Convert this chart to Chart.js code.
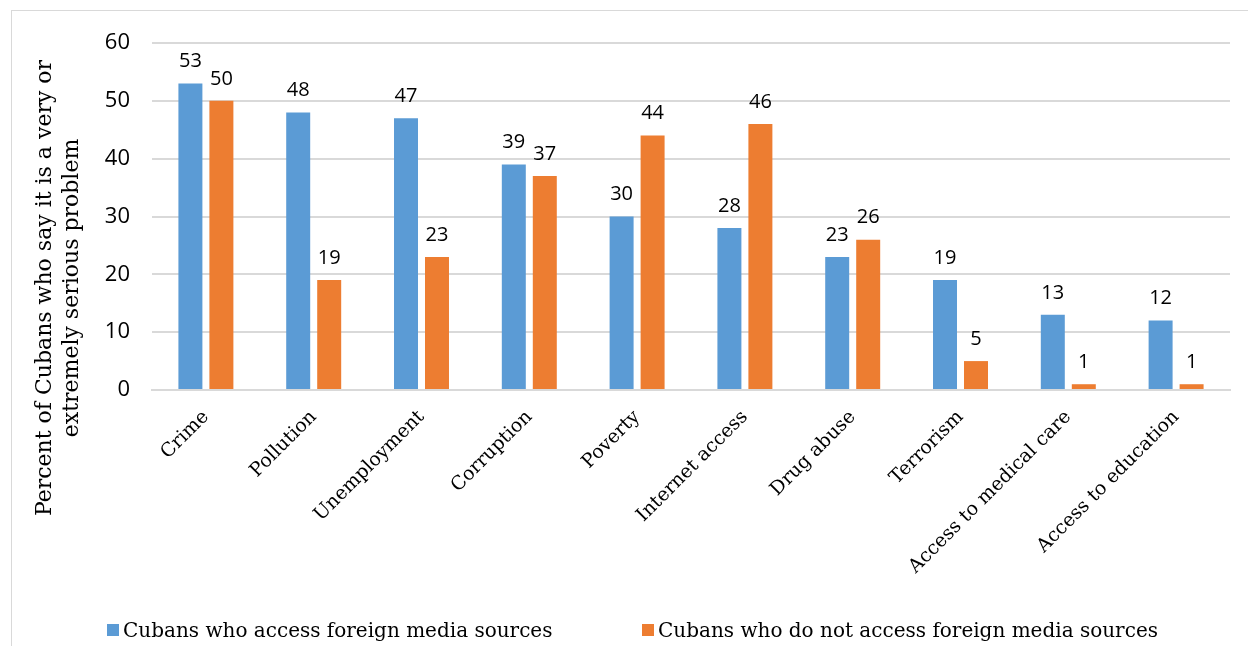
<!DOCTYPE html>
<html>
<head>
<meta charset="utf-8">
<script src="https://cdn.jsdelivr.net/npm/chart.js@4.4.0/dist/chart.umd.min.js"></script>
<style>
  html, body { margin: 0; padding: 0; background: #fff; }
  #wrap { position: relative; width: 1248px; height: 646px; overflow: hidden; }
  #frame { position: absolute; left: 11px; top: 10px; width: 1300px; height: 700px; border: 1px solid #d9d9d9; box-sizing: border-box; }
  canvas { position: absolute; left: 0; top: 0; }
  #legend { position: absolute; top: 617px; left: 0; width: 1248px; height: 26px; font-family: 'DejaVu Serif', serif; font-size: 20px; color: #000; }
  .item { position: absolute; top: 0; white-space: nowrap; line-height: 26px; }
  .box { display: inline-block; width: 12px; height: 12px; margin-right: 4px; vertical-align: 1px; }
</style>
</head>
<body>
<div id="wrap">
  <div id="frame"></div>
  <canvas id="chart1" width="1248" height="646"></canvas>
  <div id="legend"></div>
</div>
<script>
// データ
var categories = ["Crime", "Pollution", "Unemployment", "Corruption", "Poverty", "Internet access", "Drug abuse", "Terrorism", "Access to medical care", "Access to education"];
var foreignMedia = [53, 48, 47, 39, 30, 28, 23, 19, 13, 12];
var noForeignMedia = [50, 19, 23, 37, 44, 46, 26, 5, 1, 1];
var seriesNames = ["Cubans who access foreign media sources", "Cubans who do not access foreign media sources"];
var seriesColors = ['#5B9BD5', '#ED7D31'];
var yTitle = ["Percent of Cubans who say it is a very or", "extremely serious problem"];

var serif = "'DejaVu Serif', serif";
var sans = "'Open Sans', 'Liberation Sans', sans-serif";

// 凡例 (HTML)
var legendLeft = [107, 642];
var legendEl = document.getElementById('legend');
seriesNames.forEach(function(name, i) {
    var item = document.createElement('span');
    item.className = 'item';
    item.style.left = legendLeft[i] + 'px';
    var box = document.createElement('span');
    box.className = 'box';
    box.style.background = seriesColors[i];
    item.appendChild(box);
    item.appendChild(document.createTextNode(name));
    legendEl.appendChild(item);
});

// 棒の上に数値を描く
var valueLabels = {
    id: 'valueLabels',
    afterDatasetsDraw: function(chart) {
        var ctx = chart.ctx;
        ctx.save();
        ctx.fillStyle = '#000';
        ctx.font = '20px ' + sans;
        ctx.textAlign = 'center';
        ctx.textBaseline = 'bottom';
        chart.data.datasets.forEach(function(ds, i) {
            chart.getDatasetMeta(i).data.forEach(function(bar, j) {
                ctx.fillText(ds.data[j], bar.x, bar.y - 12);
            });
        });
        ctx.restore();
    }
};

// 縦軸タイトル
var axisTitle = {
    id: 'axisTitle',
    afterDraw: function(chart) {
        var ctx = chart.ctx;
        ctx.save();
        ctx.translate(58, 288);
        ctx.rotate(-Math.PI / 2);
        ctx.fillStyle = '#000';
        ctx.font = '22px ' + serif;
        ctx.textAlign = 'center';
        ctx.textBaseline = 'middle';
        ctx.fillText(yTitle[0], 0, -13);
        ctx.fillText(yTitle[1], 0, 14);
        ctx.restore();
    }
};

var ctx = document.getElementById('chart1').getContext('2d');
var chart = new Chart(ctx, {
    type: 'bar',
    data: {
        labels: categories,
        datasets: [{
            label: seriesNames[0],
            data: foreignMedia,
            backgroundColor: seriesColors[0]
        }, {
            label: seriesNames[1],
            data: noForeignMedia,
            backgroundColor: seriesColors[1]
        }]
    },
    options: {
        responsive: false,
        animation: false,
        categoryPercentage: 0.575,
        barPercentage: 0.774,
        layout: {
            padding: { left: 75, right: 18, top: 43, bottom: 45 }
        },
        plugins: {
            tooltip: { enabled: false },
            legend: { display: false }
        },
        scales: {
            x: {
                grid: { display: false, drawTicks: false },
                border: { color: '#d9d9d9', width: 2 },
                ticks: {
                    color: '#000',
                    maxRotation: 45,
                    minRotation: 45,
                    padding: 16,
                    font: { family: serif, size: 19 }
                },
                afterFit: function(axis) { axis.height = 211; }
            },
            y: {
                min: 0,
                max: 60,
                grid: { color: '#d9d9d9', lineWidth: 2, drawTicks: false },
                border: { display: false },
                ticks: {
                    stepSize: 10,
                    color: '#000',
                    padding: 22,
                    font: { family: sans, size: 22 }
                },
                afterFit: function(axis) { axis.width = 77; }
            }
        }
    },
    plugins: [valueLabels, axisTitle]
});
</script>
</body>
</html>
